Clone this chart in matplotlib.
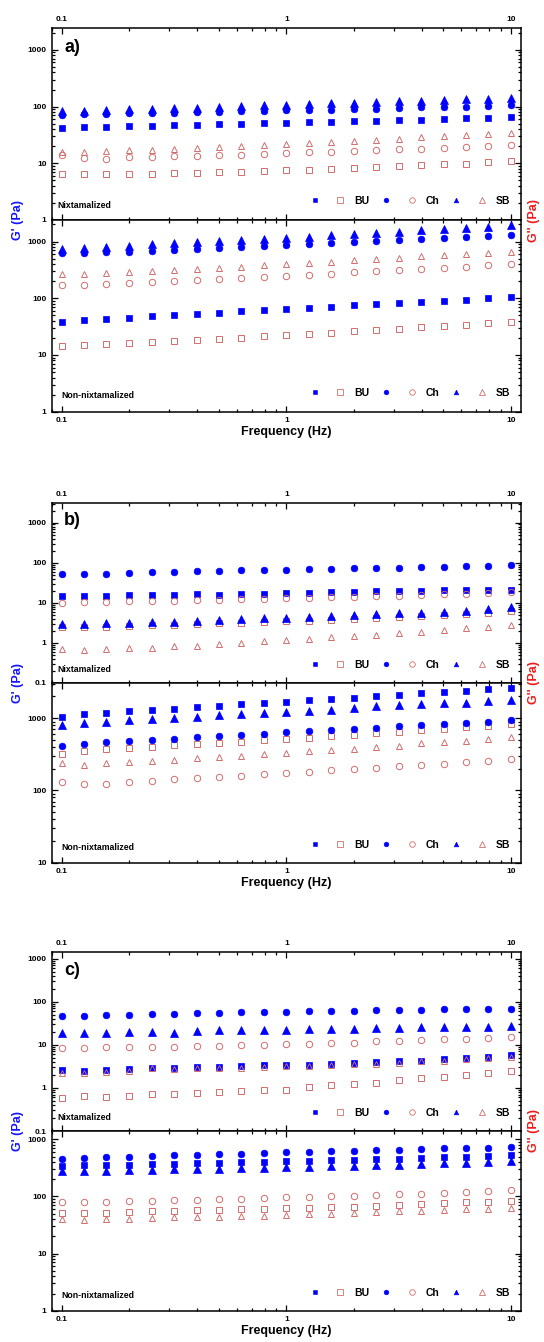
import matplotlib
matplotlib.use("Agg")
import matplotlib.pyplot as plt
from matplotlib.lines import Line2D
from matplotlib.legend_handler import HandlerTuple
from matplotlib.ticker import FuncFormatter, NullFormatter, LogLocator

plt.rcParams['font.family'] = ['Liberation Sans', 'DejaVu Sans']
plt.rcParams['font.weight'] = 'bold'

# frequency sweep (Hz), 10 points per decade
freq = [0.1, 0.126, 0.158, 0.2, 0.251, 0.316, 0.398, 0.501, 0.631, 0.794, 1.0,
        1.26, 1.58, 2.0, 2.51, 3.16, 3.98, 5.01, 6.31, 7.94, 10.0]

# ---- a) nixtamalized
a_nix_gp_bu = [42.6, 43.8, 44.4, 45.0, 46.2, 46.8, 48.1, 48.8, 50.1, 50.8, 52.2, 52.9, 53.6, 55.1, 56.6, 58.2, 59.0, 60.6, 62.3, 63.9, 66.6]
a_nix_gpp_bu = [6.48, 6.48, 6.40, 6.57, 6.57, 6.66, 6.84, 7.03, 7.03, 7.22, 7.52, 7.63, 7.84, 8.27, 8.73, 8.97, 9.47, 9.60, 9.87, 10.4, 11.1]
a_nix_gp_ch = [71.3, 73.2, 74.2, 76.2, 76.2, 78.4, 79.4, 80.5, 82.7, 83.9, 86.2, 87.3, 88.5, 90.9, 92.2, 94.7, 97.3, 98.6, 100, 102.8, 105.6]
a_nix_gpp_ch = [14.0, 12.6, 12.1, 12.8, 13.1, 13.3, 13.7, 13.8, 14.2, 14.6, 15.2, 15.6, 16.1, 16.5, 17.2, 17.7, 18.1, 18.9, 19.7, 20.2, 20.8]
a_nix_gp_sb = [83.9, 85.0, 87.3, 89.7, 90.9, 93.5, 96.0, 100, 101.4, 105.6, 108.5, 111.4, 114.5, 117.7, 120.9, 124.2, 127.6, 132.9, 134.7, 138.4, 144.1]
a_nix_gpp_sb = [15.6, 16.1, 16.3, 17.0, 17.4, 18.1, 18.9, 19.7, 20.5, 21.4, 22.2, 22.9, 23.8, 24.8, 26.2, 27.2, 28.8, 30.0, 31.2, 32.9, 34.3]
# ---- a) non-nixtamalized
a_non_gp_bu = [38.7, 41.5, 43.2, 45.6, 48.1, 50.8, 52.9, 55.9, 59.0, 62.3, 64.8, 67.5, 71.3, 75.2, 78.4, 82.7, 87.3, 91.0, 94.7, 100, 104.1]
a_non_gpp_bu = [14.4, 14.8, 15.4, 16.1, 16.7, 17.4, 18.4, 19.4, 20.2, 21.4, 22.5, 23.5, 24.8, 26.2, 27.6, 29.1, 30.8, 32.5, 33.8, 36.2, 38.2]
a_non_gp_ch = [623, 640, 648, 666, 694, 723, 743, 773, 805, 838, 885, 922, 947, 973, 1014, 1070, 1115, 1161, 1225, 1276, 1329]
a_non_gpp_ch = [172, 172, 177, 186, 194, 202, 211, 219, 232, 241, 251, 262, 272, 288, 300, 316, 329, 348, 362, 382, 398]
a_non_gp_sb = [732, 784, 805, 850, 897, 935, 973, 1028, 1070, 1130, 1176, 1225, 1294, 1366, 1422, 1502, 1585, 1651, 1743, 1840, 1942]
a_non_gpp_sb = [265, 265, 276, 288, 304, 316, 334, 348, 362, 382, 404, 420, 444, 468, 494, 522, 551, 582, 606, 640, 666]

# ---- b) nixtamalized
b_nix_gp_bu = [14.4, 14.7, 15.0, 15.3, 15.6, 15.8, 16.2, 15.8, 16.5, 16.8, 17.1, 17.8, 18.1, 18.5, 19.2, 19.6, 20.0, 20.3, 20.3, 20.7, 20.7]
b_nix_gpp_bu = [2.42, 2.51, 2.51, 2.66, 2.71, 2.82, 2.87, 3.10, 3.16, 3.29, 3.41, 3.55, 3.69, 3.83, 4.06, 4.30, 4.73, 4.82, 5.11, 5.41, 6.07]
b_nix_gp_ch = [51.1, 52.1, 53.1, 55.2, 57.3, 58.4, 60.7, 63.1, 64.3, 65.6, 66.8, 68.1, 69.5, 72.2, 73.6, 75.0, 76.4, 79.4, 81.0, 84.1, 87.4]
b_nix_gpp_ch = [9.8, 10.4, 10.6, 10.8, 11.0, 11.2, 11.7, 11.9, 12.1, 12.6, 12.8, 13.1, 13.6, 13.9, 14.7, 15.0, 15.6, 16.2, 16.8, 17.4, 18.5]
b_nix_gp_sb = [2.87, 2.99, 3.10, 3.16, 3.29, 3.35, 3.55, 3.69, 3.83, 4.06, 4.22, 4.47, 4.64, 4.92, 5.11, 5.41, 5.62, 5.96, 6.31, 6.95, 7.94]
b_nix_gpp_sb = [0.681, 0.656, 0.681, 0.722, 0.736, 0.825, 0.841, 0.926, 0.981, 1.08, 1.14, 1.24, 1.36, 1.47, 1.58, 1.71, 1.88, 2.07, 2.28, 2.42, 2.76]
# ---- b) non-nixtamalized
b_non_gp_bu = [1043, 1136, 1197, 1249, 1303, 1359, 1433, 1495, 1560, 1628, 1698, 1771, 1848, 1928, 2032, 2120, 2212, 2308, 2408, 2512, 2621]
b_non_gpp_bu = [315, 351, 374, 386, 402, 420, 433, 452, 472, 492, 513, 536, 565, 583, 621, 648, 676, 713, 744, 784, 826]
b_non_gp_ch = [407, 443, 462, 477, 497, 519, 541, 559, 589, 614, 634, 655, 676, 705, 736, 768, 801, 835, 862, 900, 938]
b_non_gpp_ch = [130, 123, 124, 131, 137, 143, 149, 154, 160, 167, 173, 180, 190, 196, 206, 215, 225, 235, 247, 258, 272]
b_non_gp_sb = [818, 862, 900, 938, 969, 1011, 1054, 1100, 1136, 1172, 1223, 1276, 1317, 1374, 1464, 1511, 1560, 1610, 1645, 1717, 1810]
b_non_gpp_sb = [237, 227, 242, 250, 258, 266, 281, 290, 302, 315, 333, 347, 362, 378, 402, 415, 447, 467, 487, 519, 541]

# ---- c) nixtamalized
c_nix_gp_bu = [2.58, 2.53, 2.67, 2.72, 2.87, 2.92, 3.02, 3.13, 3.25, 3.31, 3.43, 3.49, 3.61, 3.75, 3.95, 4.10, 4.32, 4.56, 4.81, 5.17, 5.65]
c_nix_gpp_bu = [0.575, 0.652, 0.629, 0.640, 0.725, 0.725, 0.765, 0.793, 0.852, 0.899, 0.915, 1.07, 1.15, 1.26, 1.33, 1.51, 1.68, 1.83, 2.01, 2.27, 2.53]
c_nix_gp_ch = [46.4, 47.3, 48.1, 49.9, 50.8, 52.6, 53.5, 55.5, 56.5, 57.5, 58.5, 59.6, 60.7, 61.8, 62.9, 64.0, 65.2, 66.3, 66.3, 67.5, 68.8]
c_nix_gpp_ch = [8.37, 8.52, 8.67, 8.67, 8.83, 8.99, 9.15, 9.48, 9.65, 9.82, 10.4, 10.7, 11.1, 11.3, 12.0, 12.4, 12.8, 13.3, 13.8, 14.3, 15.1]
c_nix_gp_sb = [18.7, 18.3, 19.0, 20.1, 19.7, 19.0, 20.8, 21.5, 21.5, 21.9, 22.3, 22.7, 22.7, 23.6, 24.0, 24.4, 25.3, 25.8, 25.8, 26.2, 27.2]
c_nix_gpp_sb = [2.23, 2.23, 2.36, 2.48, 2.87, 2.77, 2.82, 2.92, 2.97, 3.08, 3.19, 3.25, 3.37, 3.55, 3.68, 3.88, 4.10, 4.32, 4.56, 4.81, 5.08]
# ---- c) non-nixtamalized
c_non_gp_bu = [340, 349, 354, 358, 368, 373, 383, 389, 399, 405, 416, 421, 427, 433, 445, 457, 469, 482, 495, 509, 523]
c_non_gpp_bu = [51.3, 51.3, 50.6, 54.1, 54.8, 55.6, 57.1, 58.7, 59.5, 61.1, 62.8, 63.6, 65.4, 66.2, 69.0, 71.8, 73.8, 76.9, 79.0, 80.0, 82.2]
c_non_gp_ch = [457, 469, 483, 495, 509, 523, 537, 552, 559, 575, 591, 607, 615, 623, 641, 658, 676, 694, 704, 714, 733]
c_non_gpp_ch = [81.1, 80.0, 81.1, 82.2, 83.3, 86.8, 88.0, 90.4, 91.6, 94.1, 96.7, 98.0, 100.7, 103.4, 106.3, 109.2, 112.2, 116.8, 120.0, 123.3, 128.4]
c_non_gp_sb = [277, 277, 281, 285, 293, 297, 301, 305, 313, 317, 322, 331, 335, 340, 349, 358, 368, 378, 389, 399, 410]
c_non_gpp_sb = [40.2, 39.1, 40.2, 40.7, 41.8, 43.0, 43.6, 44.2, 45.4, 46.0, 47.9, 48.6, 49.9, 51.3, 53.4, 54.8, 56.3, 57.9, 59.5, 61.1, 62.8]

samples = ['BU', 'Ch', 'SB']
panel_letters = ['a)', 'b)', 'c)']
ylims = [((1, 2400), (1, 2400)), ((0.1, 3100), (10, 3100)), ((0.1, 1400), (1, 1400))]

panels = [
    [(a_nix_gp_bu, a_nix_gpp_bu, a_nix_gp_ch, a_nix_gpp_ch, a_nix_gp_sb, a_nix_gpp_sb),
     (a_non_gp_bu, a_non_gpp_bu, a_non_gp_ch, a_non_gpp_ch, a_non_gp_sb, a_non_gpp_sb)],
    [(b_nix_gp_bu, b_nix_gpp_bu, b_nix_gp_ch, b_nix_gpp_ch, b_nix_gp_sb, b_nix_gpp_sb),
     (b_non_gp_bu, b_non_gpp_bu, b_non_gp_ch, b_non_gpp_ch, b_non_gp_sb, b_non_gpp_sb)],
    [(c_nix_gp_bu, c_nix_gpp_bu, c_nix_gp_ch, c_nix_gpp_ch, c_nix_gp_sb, c_nix_gpp_sb),
     (c_non_gp_bu, c_non_gpp_bu, c_non_gp_ch, c_non_gpp_ch, c_non_gp_sb, c_non_gpp_sb)],
]

blue = '#0000ff'
pink = '#d46c6c'
markers = ['s', 'o', '^']
ms_fill = [4.2, 4.8, 5.1]
ms_open = [4.1, 4.6, 5.0]

W, H = 544, 1342
fig = plt.figure(figsize=(W / 100, H / 100), dpi=100)

# pixel layout of each panel: top, split, bottom
layout = [(28.3, 220.0, 411.7), (503.0, 682.7, 862.7), (952.3, 1131.0, 1310.7)]
x0, x1 = 51.5, 520.7

fmt = FuncFormatter(lambda v, _: f'{v:g}')


def style_axis(ax, ylim):
    ax.set_xscale('log')
    ax.set_yscale('log')
    ax.set_xlim(0.09, 11.05)
    ax.set_ylim(*ylim)
    ax.xaxis.set_major_formatter(fmt)
    ax.yaxis.set_major_formatter(fmt)
    ax.xaxis.set_minor_formatter(NullFormatter())
    ax.yaxis.set_minor_formatter(NullFormatter())
    ax.yaxis.set_major_locator(LogLocator(base=10, numticks=12))
    ax.yaxis.set_minor_locator(LogLocator(base=10, subs=range(2, 10), numticks=12))
    ax.tick_params(which='both', direction='in', top=True, right=True,
                   labelsize=6, width=0.9, pad=3.5)
    ax.tick_params(which='major', length=4.5)
    ax.tick_params(which='minor', length=2.5)
    for sp in ax.spines.values():
        sp.set_linewidth(1.1)


for p, (top, split, bot) in enumerate(layout):
    rects = [(split, split - top), (bot, bot - split)]
    for s, (b_px, h_px) in enumerate(rects):
        ax = fig.add_axes([x0 / W, 1 - b_px / H, (x1 - x0) / W, h_px / H])
        style_axis(ax, ylims[p][s])
        series = panels[p][s]
        for i in range(3):
            ax.plot(freq, series[2 * i], ls='none', marker=markers[i],
                    ms=ms_fill[i], mfc=blue, mec=blue, mew=0.5)
            ax.plot(freq, series[2 * i + 1], ls='none', marker=markers[i],
                    ms=ms_open[i], mfc='none', mec=pink, mew=0.7)
        if s == 0:
            ax.tick_params(axis='x', labeltop=True, labelbottom=False)
            ax.text(0.027, 0.9, panel_letters[p], transform=ax.transAxes,
                    fontsize=13, fontweight='bold', ha='left', va='center')
            ax.text(0.013, 0.075, 'Nixtamalized', transform=ax.transAxes,
                    fontsize=6.3, fontweight='bold', ha='left', va='center')
        else:
            ax.set_xlabel('Frequency (Hz)', fontsize=9, fontweight='bold', labelpad=1.5)
            ax.text(0.02, 0.085, 'Non-nixtamalized', transform=ax.transAxes,
                    fontsize=6.3, fontweight='bold', ha='left', va='center')

        # legend: filled (G') + open (G'') marker pair per sample
        handles = []
        for i in range(3):
            hf = Line2D([], [], ls='none', marker=markers[i], ms=3.4,
                        mfc=blue, mec=blue, mew=0.4)
            ho = Line2D([], [], ls='none', marker=markers[i], ms=4.0,
                        mfc='none', mec=pink, mew=0.6)
            handles.append((hf, ho))
        ax.legend(handles, samples, handler_map={tuple: HandlerTuple(ndivide=None, pad=0)},
                  loc='center right', bbox_to_anchor=(0.977, 0.1), ncol=3,
                  frameon=False, fontsize=7.5, handlelength=4.9, handletextpad=0.1,
                  columnspacing=0.4, borderpad=0, borderaxespad=0)

    fig.text(18 / W, 1 - split / H, "G' (Pa)", rotation=90, color='#1414ff',
             fontsize=9, fontweight='bold', ha='center', va='center')
    fig.text(534 / W, 1 - split / H, "G'' (Pa)", rotation=90, color='#ee1c1c',
             fontsize=9, fontweight='bold', ha='center', va='center')

fig.savefig('out.png', dpi=100)
